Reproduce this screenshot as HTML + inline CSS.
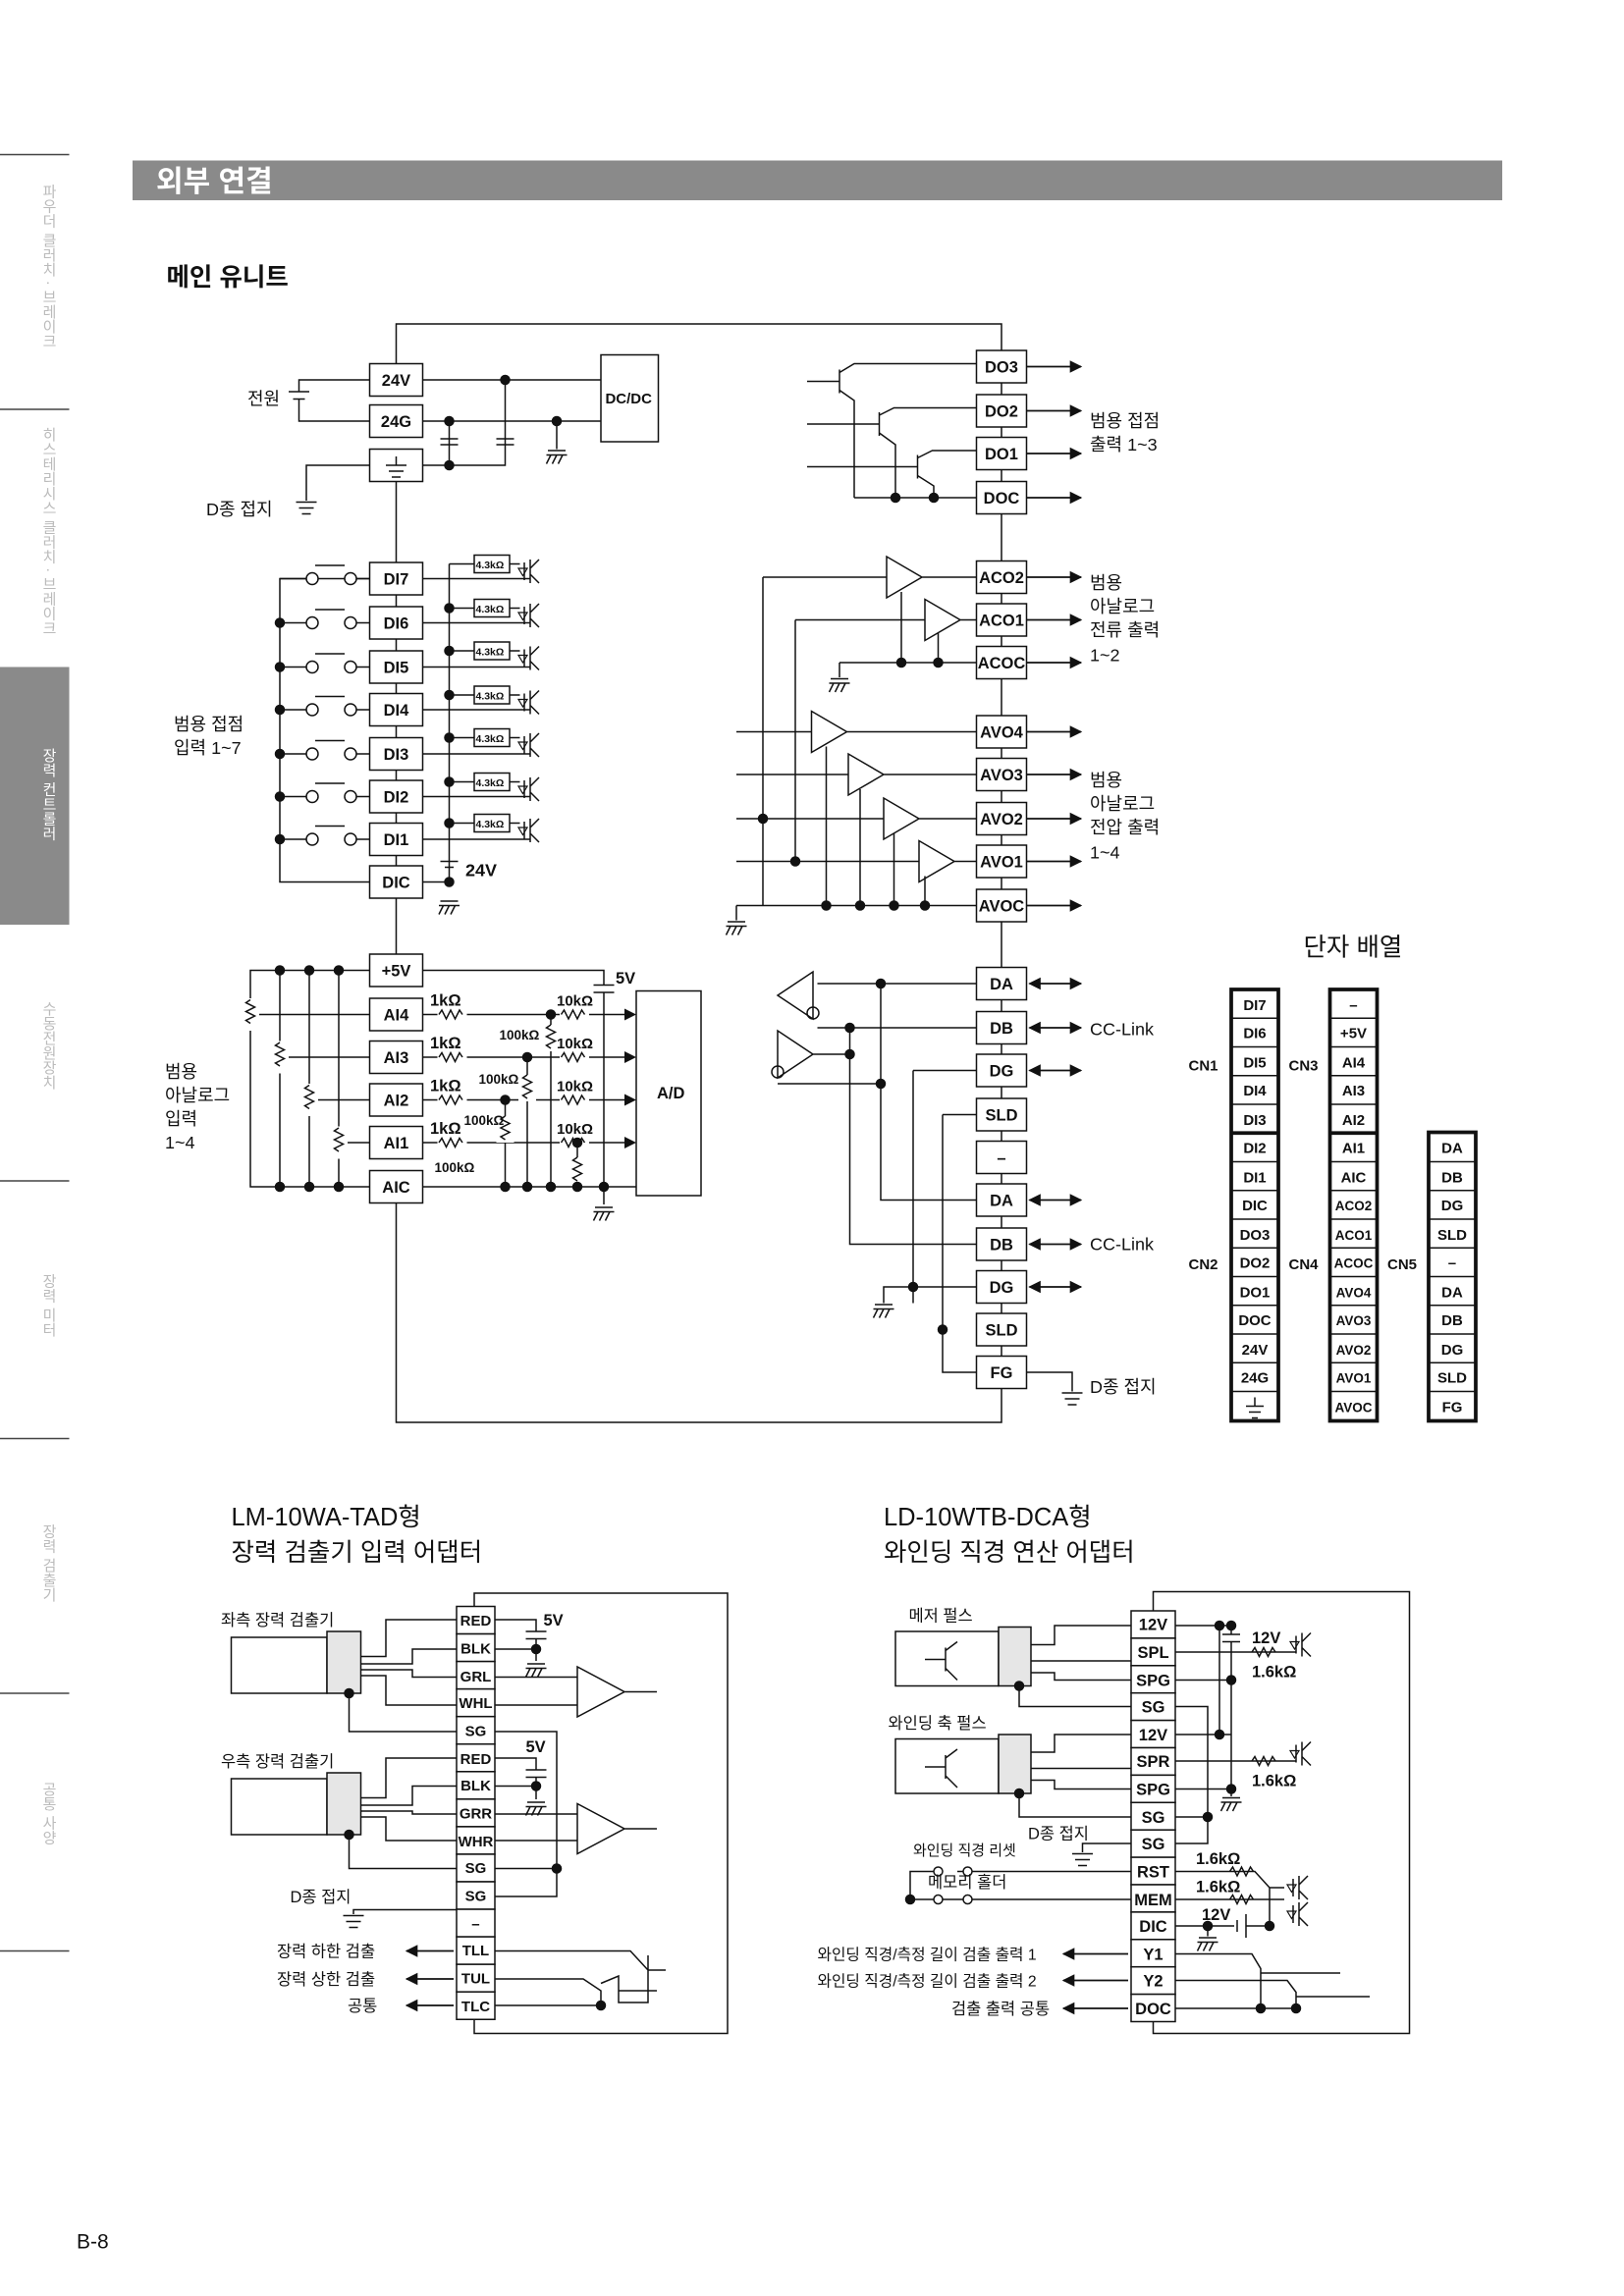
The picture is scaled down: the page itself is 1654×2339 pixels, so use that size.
<!DOCTYPE html>
<html><head><meta charset="utf-8">
<style>
html,body{margin:0;padding:0;background:#fff}
svg{display:block}
text{font-family:"Liberation Sans","Noto Sans CJK KR",sans-serif;fill:#111}
.t{font-size:11px;font-weight:bold;text-anchor:middle}
.s{font-size:9px;font-weight:bold}
.l{font-size:12px}
.side{font-size:10px;fill:#bbb;writing-mode:vertical-rl}
</style></head><body>
<svg width="1654" height="2339" viewBox="0 0 1102.67 1559.33" xmlns="http://www.w3.org/2000/svg">
<defs>
<marker id="a" viewBox="0 0 10 10" refX="9" refY="5" markerWidth="7" markerHeight="7" orient="auto"><path d="M0,0L10,5L0,10z" fill="#111"/></marker>
<marker id="b" viewBox="0 0 10 10" refX="9" refY="5" markerWidth="7" markerHeight="7" orient="auto-start-reverse"><path d="M0,0L10,5L0,10z" fill="#111"/></marker>
<g id="dot"><circle r="3.5" fill="#111"/></g>
<g id="gnd"><path d="M-6,0h12M-4,3l-3,6M0,3l-3,6M4,3l-3,6M-7,3h14" stroke="#111" fill="none" stroke-width="1"/></g>
<g id="eg"><path d="M-7,0h14M-5,4h10M-3,8h6" stroke="#111" stroke-width="1"/></g>
<g id="pc"><path d="M0,-6v12M4,-8v16M4,-2l6,-6M4,2l6,6" stroke="#111" fill="none" stroke-width="1"/><path d="M-4,-2h6l-3,5z" fill="none" stroke="#111" stroke-width=".8"/></g>
<g id="res"><path d="M0,0l2,-3l3,6l3,-6l3,6l3,-6l2,3" stroke="#111" fill="none" stroke-width="1"/></g>
<g id="vres"><path d="M0,0l-3,2l6,3l-6,3l6,3l-6,3l3,2" stroke="#111" fill="none" stroke-width="1"/></g>
<g id="sw"><path d="M190,0h18M242,0h9M214,-9h20" fill="none" stroke="#111"/><circle cx="212" cy="0" r="4" fill="#fff" stroke="#111"/><circle cx="238" cy="0" r="4" fill="#fff" stroke="#111"/></g>
</defs>

<!-- sidebar -->
<g stroke="#444" stroke-width="1">
<line x1="0" y1="105" x2="47" y2="105"/><line x1="0" y1="278" x2="47" y2="278"/>
<line x1="0" y1="802" x2="47" y2="802"/><line x1="0" y1="977" x2="47" y2="977"/>
<line x1="0" y1="1150" x2="47" y2="1150"/><line x1="0" y1="1325" x2="47" y2="1325"/>
</g>
<rect x="0" y="453" width="47" height="175" fill="#8a8a8a"/>
<text class="side" x="33" y="125">파우더 클러치 · 브레이크</text>
<text class="side" x="33" y="290">히스테리시스 클러치 · 브레이크</text>
<text class="side" x="33" y="508" style="fill:#fff">장력 컨트롤러</text>
<text class="side" x="33" y="680">수동전원장치</text>
<text class="side" x="33" y="865">장력 미터</text>
<text class="side" x="33" y="1035">장력 검출기</text>
<text class="side" x="33" y="1210">공통 사양</text>

<rect x="90" y="109" width="930" height="27" fill="#8a8a8a"/>
<text x="106" y="130" style="font-size:20px;font-weight:bold;fill:#fff">외부 연결</text>
<text x="113" y="194" style="font-size:17px;font-weight:bold">메인 유니트</text>

<g stroke="#111" stroke-width="1" fill="none">
<path d="M269,247V220H680V238M269,327V382M269,404V412M269,434V442M269,464V471M269,493V501M269,523V530M269,552V559M269,581V588M269,610V648M269,817V966H680V943"/>
<path d="M680,260V268M680,290V297M680,319V327M680,349V381M680,403V410M680,432V439M680,461V486M680,508V515M680,537V545M680,567V574M680,596V604M680,626V657M680,679V687M680,709V716M680,738V746M680,768V775M680,797V804M680,826V834M680,856V863M680,885V892M680,914V921"/>
<path d="M251,258H203V266M196,266h14M199,271h8M203,271V286H251"/>
<path d="M287,258H408M287,286H408M287,316H343V258M305,286V316M299,298h12M299,302h12M337,298h12M337,302h12M378,286V305"/>
<rect x="408" y="241" width="39" height="59"/>
<path d="M251,316H208V340"/>
</g>
<use href="#dot" x="343" y="258"/><use href="#dot" x="305" y="286"/><use href="#dot" x="378" y="286"/><use href="#dot" x="305" y="316"/>
<use href="#gnd" x="378" y="306"/><use href="#eg" x="208" y="341"/>
<text class="l" x="168" y="275">전원</text>
<text class="l" x="140" y="350">D종 접지</text>
<text x="411" y="274" style="font-size:10px;font-weight:bold">DC/DC</text>

<!-- DI section -->
<g stroke="#111" stroke-width="1" fill="none">
<path d="M251,393H190V599H251"/>
<path d="M305,383V599M287,599H305"/>
<path d="M299,585h12M302,589h6"/>
</g>
<use href="#sw" y="393"/><use href="#sw" y="423"/><use href="#sw" y="453"/><use href="#sw" y="482"/><use href="#sw" y="512"/><use href="#sw" y="541"/><use href="#sw" y="570"/>
<g stroke="#111" stroke-width="1" fill="none">
<path d="M287,393H360M287,423H360M287,453H360M287,482H360M287,512H360M287,541H360M287,570H360"/>
<path d="M305,383H322M346,383H353M305,413H322M346,413H353M305,442H322M346,442H353M305,472H322M346,472H353M305,501H322M346,501H353M305,531H322M346,531H353M305,559H322M346,559H353"/>
</g>
<g fill="#fff" stroke="#111" stroke-width="1">
<rect x="322" y="377" width="24" height="12"/><rect x="322" y="407" width="24" height="12"/><rect x="322" y="436" width="24" height="12"/><rect x="322" y="466" width="24" height="12"/><rect x="322" y="495" width="24" height="12"/><rect x="322" y="525" width="24" height="12"/><rect x="322" y="553" width="24" height="12"/>
</g>
<g>
<text x="323" y="386" class="s" style="font-size:7px">4.3kΩ</text><text x="323" y="416" class="s" style="font-size:7px">4.3kΩ</text><text x="323" y="445" class="s" style="font-size:7px">4.3kΩ</text><text x="323" y="475" class="s" style="font-size:7px">4.3kΩ</text><text x="323" y="504" class="s" style="font-size:7px">4.3kΩ</text><text x="323" y="534" class="s" style="font-size:7px">4.3kΩ</text><text x="323" y="562" class="s" style="font-size:7px">4.3kΩ</text>
</g>
<use href="#pc" x="356" y="388"/><use href="#pc" x="356" y="418"/><use href="#pc" x="356" y="447"/><use href="#pc" x="356" y="477"/><use href="#pc" x="356" y="506"/><use href="#pc" x="356" y="536"/><use href="#pc" x="356" y="564"/>
<use href="#dot" x="190" y="423"/><use href="#dot" x="190" y="453"/><use href="#dot" x="190" y="482"/><use href="#dot" x="190" y="512"/><use href="#dot" x="190" y="541"/><use href="#dot" x="190" y="570"/>
<use href="#dot" x="305" y="413"/><use href="#dot" x="305" y="442"/><use href="#dot" x="305" y="472"/><use href="#dot" x="305" y="501"/><use href="#dot" x="305" y="531"/><use href="#dot" x="305" y="559"/><use href="#dot" x="305" y="599"/>
<use href="#gnd" x="305" y="612"/>
<text x="316" y="595" style="font-size:12px;font-weight:bold">24V</text>
<text class="l" x="118" y="496">범용 접점</text><text class="l" x="118" y="512">입력 1~7</text>

<!-- Analog input -->
<g stroke="#111" stroke-width="1" fill="none">
<path d="M251,659H170V806H251M190,659V806M210,659V806M230,659V806"/>
<path d="M287,659H410V669M403,669h14M403,674h14M410,674V818"/>
<rect x="432" y="673" width="44" height="139"/>
<path d="M287,689H430M287,718H430M287,747H430M287,776H430M287,806H432" />
<path d="M176,689H287M196,718H287M216,747H287M236,776H287"/>
</g>
<g fill="#fff"><rect x="297" y="684" width="20" height="10"/><rect x="380" y="684" width="20" height="10"/><rect x="297" y="713" width="20" height="10"/><rect x="380" y="713" width="20" height="10"/><rect x="297" y="742" width="20" height="10"/><rect x="380" y="742" width="20" height="10"/><rect x="297" y="771" width="20" height="10"/><rect x="380" y="771" width="20" height="10"/></g>
<use href="#res" x="298" y="689"/><use href="#res" x="381" y="689"/><use href="#res" x="298" y="718"/><use href="#res" x="381" y="718"/><use href="#res" x="298" y="747"/><use href="#res" x="381" y="747"/><use href="#res" x="298" y="776"/><use href="#res" x="381" y="776"/>
<g stroke="#111" fill="none"><path d="M374,689V696M374,714V806M358,718V730M358,748V806M343,747V758M343,776V806M392,776V786"/></g>
<rect x="368" y="696" width="12" height="18" fill="#fff"/><use href="#vres" x="374" y="696"/>
<rect x="352" y="730" width="12" height="18" fill="#fff"/><use href="#vres" x="358" y="730"/>
<rect x="337" y="758" width="12" height="18" fill="#fff"/><use href="#vres" x="343" y="758"/>
<rect x="386" y="786" width="12" height="18" fill="#fff"/><use href="#vres" x="392" y="786"/>
<g fill="#fff"><rect x="164" y="678" width="12" height="22"/><rect x="184" y="707" width="12" height="22"/><rect x="204" y="736" width="12" height="22"/><rect x="224" y="765" width="12" height="22"/></g>
<use href="#vres" x="170" y="679"/><use href="#vres" x="190" y="708"/><use href="#vres" x="210" y="737"/><use href="#vres" x="230" y="766"/>
<g fill="#111"><path d="M424,685l8,4l-8,4z M424,714l8,4l-8,4z M424,743l8,4l-8,4z M424,772l8,4l-8,4z"/></g>
<use href="#dot" x="190" y="659"/><use href="#dot" x="210" y="659"/><use href="#dot" x="230" y="659"/>
<use href="#dot" x="190" y="806"/><use href="#dot" x="210" y="806"/><use href="#dot" x="230" y="806"/>
<use href="#dot" x="374" y="689"/><use href="#dot" x="358" y="718"/><use href="#dot" x="343" y="747"/><use href="#dot" x="392" y="776"/>
<use href="#dot" x="343" y="806"/><use href="#dot" x="358" y="806"/><use href="#dot" x="374" y="806"/><use href="#dot" x="392" y="806"/><use href="#dot" x="410" y="806"/>
<use href="#gnd" x="410" y="820"/>
<text x="418" y="668" class="s" style="font-size:11px">5V</text>
<text x="292" y="683" class="s" style="font-size:11px">1kΩ</text><text x="378" y="683" class="s" style="font-size:10px">10kΩ</text>
<text x="292" y="712" class="s" style="font-size:11px">1kΩ</text><text x="378" y="712" class="s" style="font-size:10px">10kΩ</text>
<text x="292" y="741" class="s" style="font-size:11px">1kΩ</text><text x="378" y="741" class="s" style="font-size:10px">10kΩ</text>
<text x="292" y="770" class="s" style="font-size:11px">1kΩ</text><text x="378" y="770" class="s" style="font-size:10px">10kΩ</text>
<text x="339" y="706" class="s" style="font-size:9px">100kΩ</text><text x="325" y="736" class="s" style="font-size:9px">100kΩ</text>
<text x="315" y="764" class="s" style="font-size:9px">100kΩ</text><text x="295" y="796" class="s" style="font-size:9px">100kΩ</text>
<text x="446" y="746" class="s" style="font-size:11px">A/D</text>
<text class="l" x="112" y="732">범용</text><text class="l" x="112" y="748">아날로그</text><text class="l" x="112" y="764">입력</text><text class="l" x="112" y="780">1~4</text>

<!-- left terminals -->
<g fill="#fff" stroke="#111" stroke-width="1">
<rect x="251" y="247" width="36" height="22"/><rect x="251" y="275" width="36" height="22"/><rect x="251" y="305" width="36" height="22"/>
<rect x="251" y="382" width="36" height="22"/><rect x="251" y="412" width="36" height="22"/><rect x="251" y="442" width="36" height="22"/><rect x="251" y="471" width="36" height="22"/><rect x="251" y="501" width="36" height="22"/><rect x="251" y="530" width="36" height="22"/><rect x="251" y="559" width="36" height="22"/><rect x="251" y="588" width="36" height="22"/>
<rect x="251" y="648" width="36" height="22"/><rect x="251" y="678" width="36" height="22"/><rect x="251" y="707" width="36" height="22"/><rect x="251" y="736" width="36" height="22"/><rect x="251" y="765" width="36" height="22"/><rect x="251" y="795" width="36" height="22"/>
</g>
<path d="M262,316h14M264,320h10M266,324h6M269,310v6" stroke="#111"/>
<g>
<text class="t" x="269" y="262">24V</text><text class="t" x="269" y="290">24G</text>
<text class="t" x="269" y="397">DI7</text><text class="t" x="269" y="427">DI6</text><text class="t" x="269" y="457">DI5</text><text class="t" x="269" y="486">DI4</text><text class="t" x="269" y="516">DI3</text><text class="t" x="269" y="545">DI2</text><text class="t" x="269" y="574">DI1</text><text class="t" x="269" y="603">DIC</text>
<text class="t" x="269" y="663">+5V</text><text class="t" x="269" y="693">AI4</text><text class="t" x="269" y="722">AI3</text><text class="t" x="269" y="751">AI2</text><text class="t" x="269" y="780">AI1</text><text class="t" x="269" y="810">AIC</text>
</g>

<!-- DO transistors -->
<g stroke="#111" stroke-width="1" fill="none">
<path d="M548,259H570M570,251V267M570,253L580,247H663M570,265L580,272V338"/>
<path d="M548,288H597M597,280V296M597,282L607,277H663M597,294L608,302V338"/>
<path d="M548,317H623M623,309V325M623,311L633,306H663M623,323L634,330V338"/>
<path d="M580,338H663"/>
</g>
<use href="#dot" x="608" y="338"/><use href="#dot" x="634" y="338"/>
<!-- ACO/AVO -->
<g stroke="#111" stroke-width="1" fill="none">
<path d="M518,392H602M602,378V406L626,392ZM626,392H663"/>
<path d="M540,421H628M628,407V435L652,421ZM652,421H663"/>
<path d="M518,392V615M540,421V585"/>
<path d="M570,450H663M570,450V460M612,402V450M637,430V450"/>
<path d="M500,497H551M551,483V511L575,497ZM575,497H663"/>
<path d="M500,526H576M576,512V540L600,526ZM600,526H663"/>
<path d="M500,556H600M600,542V570L624,556ZM624,556H663"/>
<path d="M500,585H624M624,571V599L648,585ZM648,585H663"/>
<path d="M500,615H663M500,615V625M561,507V615M584,536V615M607,566V615M628,595V615"/>
</g>
<use href="#dot" x="612" y="450"/><use href="#dot" x="637" y="450"/><use href="#dot" x="518" y="556"/><use href="#dot" x="540" y="585"/>
<use href="#dot" x="561" y="615"/><use href="#dot" x="584" y="615"/><use href="#dot" x="607" y="615"/><use href="#dot" x="628" y="615"/>
<use href="#gnd" x="570" y="461"/><use href="#gnd" x="500" y="626"/>

<!-- CC-Link -->
<g stroke="#111" stroke-width="1" fill="none">
<path d="M552,660V692L528,676ZM555,668H663M598,668V815H663"/>
<path d="M528,700V732L552,716ZM555,698H663M577,698V845H663M552,716H577"/>
<circle cx="552" cy="688" r="4"/><circle cx="528" cy="728" r="4"/>
<path d="M528,736H598M620,727H663M620,727V885M640,757H663M640,757V932H663M697,932H728V945"/>
<path d="M600,885V874H663"/>
</g>
<use href="#dot" x="598" y="668"/><use href="#dot" x="577" y="698"/><use href="#dot" x="577" y="716"/><use href="#dot" x="598" y="736"/><use href="#dot" x="620" y="874"/><use href="#dot" x="640" y="903"/>
<use href="#gnd" x="600" y="886"/><use href="#eg" x="728" y="946"/>

<!-- right terminals -->
<g fill="#fff" stroke="#111" stroke-width="1">
<rect x="663" y="238" width="34" height="22"/><rect x="663" y="268" width="34" height="22"/><rect x="663" y="297" width="34" height="22"/><rect x="663" y="327" width="34" height="22"/>
<rect x="663" y="381" width="34" height="22"/><rect x="663" y="410" width="34" height="22"/><rect x="663" y="439" width="34" height="22"/>
<rect x="663" y="486" width="34" height="22"/><rect x="663" y="515" width="34" height="22"/><rect x="663" y="545" width="34" height="22"/><rect x="663" y="574" width="34" height="22"/><rect x="663" y="604" width="34" height="22"/>
<rect x="663" y="657" width="34" height="22"/><rect x="663" y="687" width="34" height="22"/><rect x="663" y="716" width="34" height="22"/><rect x="663" y="746" width="34" height="22"/><rect x="663" y="775" width="34" height="22"/><rect x="663" y="804" width="34" height="22"/><rect x="663" y="834" width="34" height="22"/><rect x="663" y="863" width="34" height="22"/><rect x="663" y="892" width="34" height="22"/><rect x="663" y="921" width="34" height="22"/>
</g>
<g>
<text class="t" x="680" y="253">DO3</text><text class="t" x="680" y="283">DO2</text><text class="t" x="680" y="312">DO1</text><text class="t" x="680" y="342">DOC</text>
<text class="t" x="680" y="396">ACO2</text><text class="t" x="680" y="425">ACO1</text><text class="t" x="680" y="454">ACOC</text>
<text class="t" x="680" y="501">AVO4</text><text class="t" x="680" y="530">AVO3</text><text class="t" x="680" y="560">AVO2</text><text class="t" x="680" y="589">AVO1</text><text class="t" x="680" y="619">AVOC</text>
<text class="t" x="680" y="672">DA</text><text class="t" x="680" y="702">DB</text><text class="t" x="680" y="731">DG</text><text class="t" x="680" y="761">SLD</text><text class="t" x="680" y="790">–</text><text class="t" x="680" y="819">DA</text><text class="t" x="680" y="849">DB</text><text class="t" x="680" y="878">DG</text><text class="t" x="680" y="907">SLD</text><text class="t" x="680" y="936">FG</text>
</g>
<g stroke="#111" stroke-width="1.2">
<line x1="697" y1="249" x2="734" y2="249" marker-end="url(#a)"/><line x1="697" y1="279" x2="734" y2="279" marker-end="url(#a)"/><line x1="697" y1="308" x2="734" y2="308" marker-end="url(#a)"/><line x1="697" y1="338" x2="734" y2="338" marker-end="url(#a)"/>
<line x1="697" y1="392" x2="734" y2="392" marker-end="url(#a)"/><line x1="697" y1="421" x2="734" y2="421" marker-end="url(#a)"/><line x1="697" y1="450" x2="734" y2="450" marker-end="url(#a)"/>
<line x1="697" y1="497" x2="734" y2="497" marker-end="url(#a)"/><line x1="697" y1="526" x2="734" y2="526" marker-end="url(#a)"/><line x1="697" y1="556" x2="734" y2="556" marker-end="url(#a)"/><line x1="697" y1="585" x2="734" y2="585" marker-end="url(#a)"/><line x1="697" y1="615" x2="734" y2="615" marker-end="url(#a)"/>
<line x1="699" y1="668" x2="734" y2="668" marker-end="url(#b)" marker-start="url(#b)"/><line x1="699" y1="698" x2="734" y2="698" marker-end="url(#b)" marker-start="url(#b)"/><line x1="699" y1="727" x2="734" y2="727" marker-end="url(#b)" marker-start="url(#b)"/>
<line x1="699" y1="815" x2="734" y2="815" marker-end="url(#b)" marker-start="url(#b)"/><line x1="699" y1="845" x2="734" y2="845" marker-end="url(#b)" marker-start="url(#b)"/><line x1="699" y1="874" x2="734" y2="874" marker-end="url(#b)" marker-start="url(#b)"/>
</g>
<text class="l" x="740" y="290">범용 접점</text><text class="l" x="740" y="306">출력 1~3</text>
<text class="l" x="740" y="400">범용</text><text class="l" x="740" y="416">아날로그</text><text class="l" x="740" y="432">전류 출력</text><text class="l" x="740" y="449">1~2</text>
<text class="l" x="740" y="534">범용</text><text class="l" x="740" y="550">아날로그</text><text class="l" x="740" y="566">전압 출력</text><text class="l" x="740" y="583">1~4</text>
<text class="l" x="740" y="703">CC-Link</text><text class="l" x="740" y="849">CC-Link</text><text class="l" x="740" y="946">D종 접지</text>

<!-- terminal layout -->
<text x="885" y="649" style="font-size:17px">단자 배열</text>
<g fill="none" stroke="#111">
<rect x="836" y="672" width="32" height="293" stroke-width="2.5"/>
<rect x="903" y="672" width="32" height="293" stroke-width="2.5"/>
<rect x="970" y="769" width="32" height="196" stroke-width="2.5"/>
<path d="M836,691.5h32M836,711h32M836,730.5h32M836,750h32M836,769.5h32M836,789h32M836,808.5h32M836,828h32M836,847.5h32M836,867h32M836,886.5h32M836,906h32M836,925.5h32M836,945h32"/>
<path d="M903,691.5h32M903,711h32M903,730.5h32M903,750h32M903,769.5h32M903,789h32M903,808.5h32M903,828h32M903,847.5h32M903,867h32M903,886.5h32M903,906h32M903,925.5h32M903,945h32"/>
<path d="M970,789h32M970,808.5h32M970,828h32M970,847.5h32M970,867h32M970,886.5h32M970,906h32M970,925.5h32M970,945h32"/>
<path d="M836,769.5h32M903,769.5h32" stroke-width="2.5"/>
<path d="M846,955h12M848,959h8M850,963h4M852,949v6"/>
</g>
<g>
<text class="t" style="font-size:10px" x="852" y="686">DI7</text><text class="t" style="font-size:10px" x="852" y="705">DI6</text><text class="t" style="font-size:10px" x="852" y="725">DI5</text><text class="t" style="font-size:10px" x="852" y="744">DI4</text><text class="t" style="font-size:10px" x="852" y="764">DI3</text><text class="t" style="font-size:10px" x="852" y="783">DI2</text><text class="t" style="font-size:10px" x="852" y="803">DI1</text><text class="t" style="font-size:10px" x="852" y="822">DIC</text><text class="t" style="font-size:10px" x="852" y="842">DO3</text><text class="t" style="font-size:10px" x="852" y="861">DO2</text><text class="t" style="font-size:10px" x="852" y="881">DO1</text><text class="t" style="font-size:10px" x="852" y="900">DOC</text><text class="t" style="font-size:10px" x="852" y="920">24V</text><text class="t" style="font-size:10px" x="852" y="939">24G</text>
<text class="t" style="font-size:10px" x="919" y="686">–</text><text class="t" style="font-size:10px" x="919" y="705">+5V</text><text class="t" style="font-size:10px" x="919" y="725">AI4</text><text class="t" style="font-size:10px" x="919" y="744">AI3</text><text class="t" style="font-size:10px" x="919" y="764">AI2</text><text class="t" style="font-size:10px" x="919" y="783">AI1</text><text class="t" style="font-size:10px" x="919" y="803">AIC</text><text class="t" style="font-size:9px" x="919" y="822">ACO2</text><text class="t" style="font-size:9px" x="919" y="842">ACO1</text><text class="t" style="font-size:9px" x="919" y="861">ACOC</text><text class="t" style="font-size:9px" x="919" y="881">AVO4</text><text class="t" style="font-size:9px" x="919" y="900">AVO3</text><text class="t" style="font-size:9px" x="919" y="920">AVO2</text><text class="t" style="font-size:9px" x="919" y="939">AVO1</text><text class="t" style="font-size:9px" x="919" y="959">AVOC</text>
<text class="t" style="font-size:10px" x="986" y="783">DA</text><text class="t" style="font-size:10px" x="986" y="803">DB</text><text class="t" style="font-size:10px" x="986" y="822">DG</text><text class="t" style="font-size:10px" x="986" y="842">SLD</text><text class="t" style="font-size:10px" x="986" y="861">–</text><text class="t" style="font-size:10px" x="986" y="881">DA</text><text class="t" style="font-size:10px" x="986" y="900">DB</text><text class="t" style="font-size:10px" x="986" y="920">DG</text><text class="t" style="font-size:10px" x="986" y="939">SLD</text><text class="t" style="font-size:10px" x="986" y="959">FG</text>
</g>
<text class="t" x="817" y="727" style="font-size:10px">CN1</text><text class="t" x="885" y="727" style="font-size:10px">CN3</text>
<text class="t" x="817" y="862" style="font-size:10px">CN2</text><text class="t" x="885" y="862" style="font-size:10px">CN4</text><text class="t" x="952" y="862" style="font-size:10px">CN5</text>

<!-- Bottom headings -->
<text x="157" y="1036" style="font-size:17px">LM-10WA-TAD형</text>
<text x="157" y="1060" style="font-size:17px">장력 검출기 입력 어댑터</text>
<text x="600" y="1036" style="font-size:17px">LD-10WTB-DCA형</text>
<text x="600" y="1060" style="font-size:17px">와인딩 직경 연산 어댑터</text>

<!-- Left adapter -->
<g stroke="#111" stroke-width="1" fill="none">
<path d="M322,1091V1082H494V1381H322V1371"/>
<rect x="157" y="1112" width="65" height="38"/><rect x="157" y="1208" width="65" height="38"/>
<path d="M245,1125H262V1100H310M245,1130H280V1120H310M245,1134H280V1139H310M245,1138H262V1158H310M237,1150V1176H310"/>
<path d="M245,1221H262V1194H310M245,1226H280V1213H310M245,1230H280V1232H310M245,1234H262V1250H310M237,1246V1269H310"/>
<path d="M336,1100H364V1108M357,1108h14M357,1113h14M364,1113V1128M336,1120H364"/>
<path d="M336,1194H364V1202M357,1202h14M357,1207h14M364,1207V1222M336,1213H364"/>
<path d="M336,1139H392M336,1158H392M392,1132V1166L424,1149ZM424,1149H446"/>
<path d="M336,1232H392M336,1250H392M392,1225V1259L424,1242ZM424,1242H446"/>
<path d="M336,1176H378V1288H336M336,1269H378"/>
<path d="M310,1297H240V1300"/>
<path d="M336,1325H428L440,1338M440,1328V1348M440,1338H452M336,1344H396L408,1352V1362M408,1347L420,1342V1360H440V1348M336,1362H408M420,1352H446"/>
</g>
<g stroke="#111" stroke-width="1.2">
<line x1="308" y1="1325" x2="276" y2="1325" marker-end="url(#a)"/>
<line x1="308" y1="1344" x2="276" y2="1344" marker-end="url(#a)"/>
<line x1="308" y1="1362" x2="276" y2="1362" marker-end="url(#a)"/>
</g>
<rect x="222" y="1108" width="23" height="42" fill="#e6e6e6" stroke="#111"/>
<rect x="222" y="1204" width="23" height="42" fill="#e6e6e6" stroke="#111"/>
<use href="#dot" x="237" y="1150"/><use href="#dot" x="237" y="1246"/><use href="#dot" x="364" y="1120"/><use href="#dot" x="364" y="1213"/><use href="#dot" x="378" y="1269"/><use href="#dot" x="408" y="1362"/>
<use href="#gnd" x="364" y="1130"/><use href="#gnd" x="364" y="1224"/><use href="#eg" x="240" y="1301"/>
<text x="369" y="1104" class="s" style="font-size:11px">5V</text><text x="357" y="1190" class="s" style="font-size:11px">5V</text>
<text class="l" x="150" y="1104" style="font-size:11px">좌측 장력 검출기</text>
<text class="l" x="150" y="1200" style="font-size:11px">우측 장력 검출기</text>
<text class="l" x="197" y="1292" style="font-size:11px">D종 접지</text>
<text class="l" x="188" y="1329" style="font-size:11px">장력 하한 검출</text>
<text class="l" x="188" y="1348" style="font-size:11px">장력 상한 검출</text>
<text class="l" x="236" y="1366" style="font-size:11px">공통</text>
<g fill="#fff" stroke="#111">
<rect x="310" y="1091" width="26" height="18.7"/><rect x="310" y="1109.7" width="26" height="18.7"/><rect x="310" y="1128.4" width="26" height="18.7"/><rect x="310" y="1147.1" width="26" height="18.7"/><rect x="310" y="1165.8" width="26" height="18.7"/><rect x="310" y="1184.5" width="26" height="18.7"/><rect x="310" y="1203.2" width="26" height="18.7"/><rect x="310" y="1221.9" width="26" height="18.7"/><rect x="310" y="1240.6" width="26" height="18.7"/><rect x="310" y="1259.3" width="26" height="18.7"/><rect x="310" y="1278" width="26" height="18.7"/><rect x="310" y="1296.7" width="26" height="18.7"/><rect x="310" y="1315.4" width="26" height="18.7"/><rect x="310" y="1334.1" width="26" height="18.7"/><rect x="310" y="1352.8" width="26" height="18.7"/>
</g>
<g>
<text class="t" style="font-size:10px" x="323" y="1104">RED</text><text class="t" style="font-size:10px" x="323" y="1123">BLK</text><text class="t" style="font-size:10px" x="323" y="1142">GRL</text><text class="t" style="font-size:10px" x="323" y="1160">WHL</text><text class="t" style="font-size:10px" x="323" y="1179">SG</text><text class="t" style="font-size:10px" x="323" y="1198">RED</text><text class="t" style="font-size:10px" x="323" y="1216">BLK</text><text class="t" style="font-size:10px" x="323" y="1235">GRR</text><text class="t" style="font-size:10px" x="323" y="1254">WHR</text><text class="t" style="font-size:10px" x="323" y="1272">SG</text><text class="t" style="font-size:10px" x="323" y="1291">SG</text><text class="t" style="font-size:10px" x="323" y="1310">–</text><text class="t" style="font-size:10px" x="323" y="1328">TLL</text><text class="t" style="font-size:10px" x="323" y="1347">TUL</text><text class="t" style="font-size:10px" x="323" y="1366">TLC</text>
</g>

<!-- Right adapter -->
<g stroke="#111" stroke-width="1" fill="none">
<path d="M783,1094V1081H957V1381H783V1373"/>
<rect x="608" y="1108" width="70" height="37"/><rect x="608" y="1181" width="70" height="37"/>
<path d="M628,1127h14M642,1119v16M642,1121l8,-6M642,1133l8,8"/>
<path d="M628,1200h14M642,1192v16M642,1194l8,-6M642,1206l8,8"/>
<path d="M700,1117H716V1104H768M700,1128H768M700,1136H716V1141H768M692,1145V1159H768"/>
<path d="M700,1190H716V1178H768M700,1201H768M700,1209H716V1215H768M692,1218V1234H768"/>
<path d="M798,1104H836M798,1178H836M828,1104V1178M836,1104V1110M830,1110h12M830,1115h12M836,1115V1141H798"/>
<path d="M798,1122H848M848,1122H880M836,1141V1215H798M798,1196H880M836,1215V1220"/>
<path d="M798,1159H820V1252H798M798,1234H820"/>
<path d="M768,1252H735V1258"/>
<path d="M768,1271H650M768,1290H618V1271H640"/>
<path d="M798,1271H852L862,1282H872M798,1290H872M798,1308H838M846,1300v16M840,1304v8M846,1308H862V1282"/>
<path d="M798,1327H850L856,1337V1364H798M856,1340H910M798,1345H874L880,1353V1364H856M880,1356H930"/>
</g>
<g stroke="#111" stroke-width="1.2">
<line x1="766" y1="1327" x2="722" y2="1327" marker-end="url(#a)"/>
<line x1="766" y1="1345" x2="722" y2="1345" marker-end="url(#a)"/>
<line x1="766" y1="1364" x2="722" y2="1364" marker-end="url(#a)"/>
</g>
<rect x="678" y="1105" width="22" height="40" fill="#e6e6e6" stroke="#111"/>
<rect x="678" y="1178" width="22" height="40" fill="#e6e6e6" stroke="#111"/>
<g fill="#fff" stroke="#111"><circle cx="637" cy="1271" r="3"/><circle cx="657" cy="1271" r="3"/><circle cx="637" cy="1290" r="3"/><circle cx="657" cy="1290" r="3"/></g>
<use href="#res" x="850" y="1122"/><use href="#res" x="850" y="1196"/><use href="#res" x="835" y="1271"/><use href="#res" x="835" y="1290"/>
<use href="#pc" x="880" y="1117"/><use href="#pc" x="880" y="1191"/><use href="#pc" x="878" y="1282"/><use href="#pc" x="878" y="1300"/>
<use href="#dot" x="692" y="1145"/><use href="#dot" x="692" y="1218"/><use href="#dot" x="828" y="1104"/><use href="#dot" x="836" y="1104"/><use href="#dot" x="836" y="1141"/><use href="#dot" x="828" y="1178"/><use href="#dot" x="836" y="1215"/><use href="#dot" x="820" y="1234"/><use href="#dot" x="618" y="1290"/><use href="#dot" x="820" y="1308"/><use href="#dot" x="862" y="1308"/><use href="#dot" x="856" y="1364"/><use href="#dot" x="880" y="1364"/>
<use href="#gnd" x="836" y="1221"/><use href="#gnd" x="820" y="1316"/><use href="#eg" x="735" y="1259"/>
<path d="M820,1308V1315" stroke="#111"/>
<text x="850" y="1116" class="s" style="font-size:11px">12V</text><text x="850" y="1139" class="s" style="font-size:11px">1.6kΩ</text><text x="850" y="1213" class="s" style="font-size:11px">1.6kΩ</text>
<text x="812" y="1266" class="s" style="font-size:11px">1.6kΩ</text><text x="812" y="1285" class="s" style="font-size:11px">1.6kΩ</text><text x="816" y="1304" class="s" style="font-size:11px">12V</text>
<text class="l" x="617" y="1101" style="font-size:11px">메저 펄스</text>
<text class="l" x="603" y="1174" style="font-size:11px">와인딩 축 펄스</text>
<text class="l" x="698" y="1249" style="font-size:11px">D종 접지</text>
<text class="l" x="620" y="1260" style="font-size:10px">와인딩 직경 리셋</text>
<text class="l" x="630" y="1282" style="font-size:11px">메모리 홀더</text>
<text class="l" x="555" y="1331" style="font-size:10.5px">와인딩 직경/측정 길이 검출 출력 1</text>
<text class="l" x="555" y="1349" style="font-size:10.5px">와인딩 직경/측정 길이 검출 출력 2</text>
<text class="l" x="646" y="1368" style="font-size:11px">검출 출력 공통</text>
<g fill="#fff" stroke="#111">
<rect x="768" y="1094" width="30" height="18.6"/><rect x="768" y="1112.6" width="30" height="18.6"/><rect x="768" y="1131.2" width="30" height="18.6"/><rect x="768" y="1149.8" width="30" height="18.6"/><rect x="768" y="1168.4" width="30" height="18.6"/><rect x="768" y="1187" width="30" height="18.6"/><rect x="768" y="1205.6" width="30" height="18.6"/><rect x="768" y="1224.2" width="30" height="18.6"/><rect x="768" y="1242.8" width="30" height="18.6"/><rect x="768" y="1261.4" width="30" height="18.6"/><rect x="768" y="1280" width="30" height="18.6"/><rect x="768" y="1298.6" width="30" height="18.6"/><rect x="768" y="1317.2" width="30" height="18.6"/><rect x="768" y="1335.8" width="30" height="18.6"/><rect x="768" y="1354.4" width="30" height="18.6"/>
</g>
<g>
<text class="t" x="783" y="1107">12V</text><text class="t" x="783" y="1126">SPL</text><text class="t" x="783" y="1145">SPG</text><text class="t" x="783" y="1163">SG</text><text class="t" x="783" y="1182">12V</text><text class="t" x="783" y="1200">SPR</text><text class="t" x="783" y="1219">SPG</text><text class="t" x="783" y="1238">SG</text><text class="t" x="783" y="1256">SG</text><text class="t" x="783" y="1275">RST</text><text class="t" x="783" y="1294">MEM</text><text class="t" x="783" y="1312">DIC</text><text class="t" x="783" y="1331">Y1</text><text class="t" x="783" y="1349">Y2</text><text class="t" x="783" y="1368">DOC</text>
</g>

<text x="52" y="1527" style="font-size:14px">B-8</text>
</svg>
</body></html>
